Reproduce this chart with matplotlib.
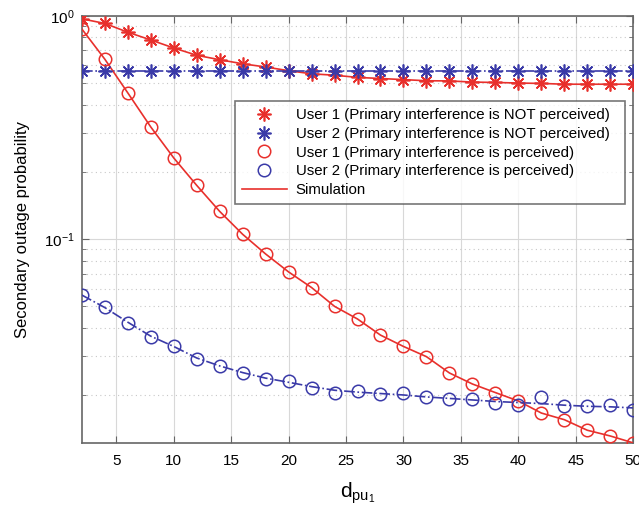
import matplotlib
matplotlib.use("Agg")
import matplotlib.pyplot as plt
from matplotlib.ticker import LogLocator, NullFormatter, FixedLocator, FixedFormatter

plt.rcParams['font.family'] = ['Liberation Sans', 'DejaVu Sans']
plt.rcParams['mathtext.fontset'] = 'custom'
plt.rcParams['mathtext.rm'] = 'Liberation Sans'
plt.rcParams['mathtext.it'] = 'Liberation Sans'

d = [2, 4, 6, 8, 10, 12, 14, 16, 18, 20, 22, 24, 26, 28, 30, 32, 34, 36, 38, 40, 42, 44, 46, 48, 50]

u1_not = [0.97, 0.925, 0.845, 0.780, 0.718, 0.666, 0.636, 0.610, 0.590, 0.568, 0.550,
          0.542, 0.530, 0.524, 0.518, 0.512, 0.511, 0.505, 0.503, 0.500, 0.498, 0.494,
          0.494, 0.494, 0.494]
u2_not = [0.565] * 25
u1_per = [0.874, 0.640, 0.452, 0.318, 0.231, 0.174, 0.133, 0.105, 0.0857, 0.0712, 0.0606,
          0.0499, 0.0438, 0.0371, 0.0330, 0.0297, 0.0251, 0.0224, 0.0205, 0.0188, 0.0166,
          0.0155, 0.0139, 0.0131, 0.0122]
u2_per = [0.0561, 0.0496, 0.0421, 0.0363, 0.0330, 0.0291, 0.0270, 0.0251, 0.0237, 0.0231,
          0.0214, 0.0204, 0.0208, 0.0203, 0.0204, 0.0195, 0.0191, 0.0191, 0.0184, 0.0181,
          0.0195, 0.0178, 0.0179, 0.0181, 0.0172]
u2_per_line = [0.0561, 0.0493, 0.0424, 0.0367, 0.0330, 0.0293, 0.0270, 0.0252, 0.0238, 0.0228,
               0.0218, 0.0210, 0.0206, 0.0203, 0.0200, 0.0196, 0.0193, 0.0190, 0.0187, 0.0185,
               0.0183, 0.0180, 0.0178, 0.0177, 0.0175]

labels = ['User 1 (Primary interference is NOT perceived)',
          'User 2 (Primary interference is NOT perceived)',
          'User 1 (Primary interference is perceived)',
          'User 2 (Primary interference is perceived)',
          'Simulation']

RED = '#e8302c'
BLUE = '#3a3aa8'
STAR = (8, 2, 0)

fig = plt.figure(figsize=(6.39, 5.12), dpi=100)
ax = fig.add_axes([0.128, 0.135, 0.863, 0.834])
ax.set_yscale('log')

# simulation lines
ax.plot(d, u1_not, '-', color=RED, lw=1.2, zorder=3)
ax.plot(d, u2_not, '-.', color=BLUE, lw=1.2, zorder=3)
ax.plot(d, u1_per, '-', color=RED, lw=1.2, zorder=3)
ax.plot(d, u2_per_line, '-.', color=BLUE, lw=1.2, zorder=3)

# markers
h1, = ax.plot(d, u1_not, marker=STAR, color=RED, ms=10, mew=1.2, ls='none', zorder=4, label=labels[0])
h2, = ax.plot(d, u2_not, marker=STAR, color=BLUE, ms=10, mew=1.2, ls='none', zorder=4, label=labels[1])
h3, = ax.plot(d, u1_per, 'o', mec=RED, mfc='none', ms=9, mew=1.1, ls='none', zorder=4, label=labels[2])
h4, = ax.plot(d, u2_per, 'o', mec=BLUE, mfc='none', ms=9, mew=1.1, ls='none', zorder=4, label=labels[3])
h5, = ax.plot([], [], '-', color=RED, lw=1.2, label=labels[4])

ax.set_xlim(2, 50)
ax.set_ylim(0.0122, 1.0)
ax.set_xticks([5, 10, 15, 20, 25, 30, 35, 40, 45, 50])
ax.yaxis.set_major_locator(FixedLocator([0.1, 1.0]))
ax.yaxis.set_major_formatter(FixedFormatter([r'$10^{-1}$', r'$10^{0}$']))
ax.yaxis.set_minor_locator(LogLocator(base=10, subs=range(2, 10)))
ax.yaxis.set_minor_formatter(NullFormatter())

ax.grid(True, which='major', axis='x', color='#d8d8d8', lw=0.8, ls='-')
ax.grid(True, which='major', axis='y', color='#d8d8d8', lw=0.8, ls='-')
ax.grid(True, which='minor', axis='y', color='#c8c8c8', lw=0.8, ls=(0, (1, 3)))
ax.set_axisbelow(True)

for s in ax.spines.values():
    s.set_color('#666666')
    s.set_linewidth(1.2)
ax.tick_params(which='both', direction='in', colors='#666666', labelcolor='black', labelsize=11)
ax.tick_params(which='both', top=True, right=True)
ax.tick_params(which='major', length=5)
ax.tick_params(which='minor', length=3)
ax.tick_params(axis='x', pad=8)
ax.tick_params(axis='y', pad=5)

ax.set_ylabel('Secondary outage probability', fontsize=12, labelpad=10)
ax.set_xlabel(r'$\mathrm{d}_{\mathrm{pu}_{1}}$', fontsize=15, labelpad=9)

leg = ax.legend(handles=[h1, h2, h3, h4, h5], loc='upper left',
                bbox_to_anchor=(0.278, 0.562, 0.707, 0.238), mode='expand',
                fontsize=10.8, frameon=True, fancybox=False, borderpad=0.45,
                labelspacing=0.32, handlelength=3.0, handletextpad=0.6, borderaxespad=0)
leg.get_frame().set_edgecolor('#555555')
leg.get_frame().set_linewidth(1.2)
leg.set_zorder(5)

fig.savefig('out.png', dpi=100)
